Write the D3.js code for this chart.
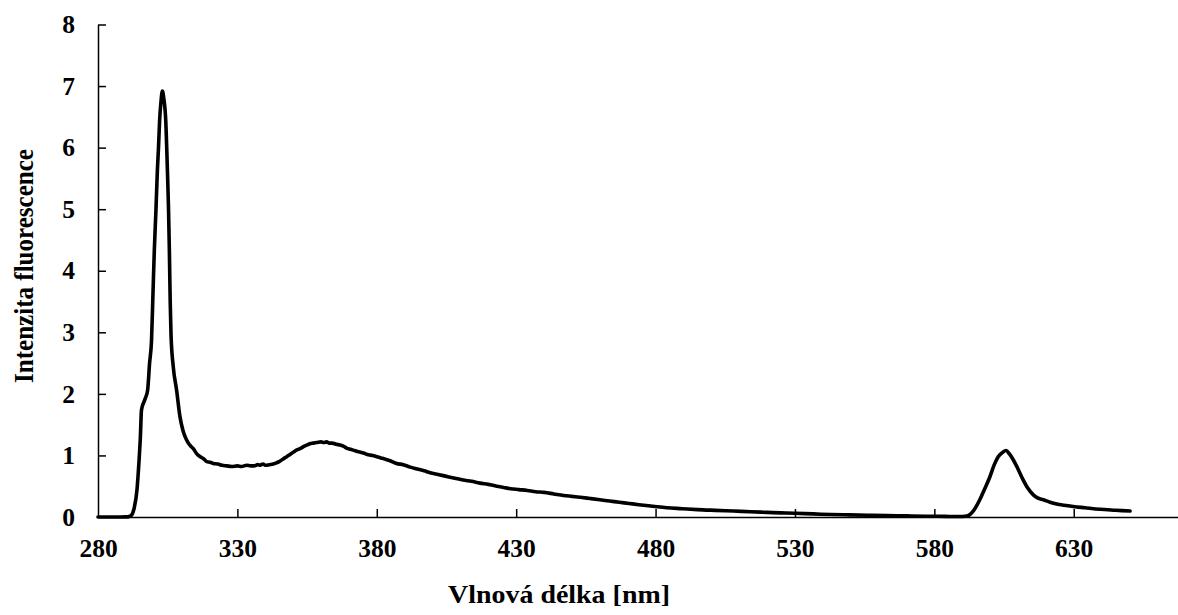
<!DOCTYPE html>
<html>
<head>
<meta charset="utf-8">
<script src="https://cdn.jsdelivr.net/npm/d3@7"></script>
<style>
  html, body { margin: 0; padding: 0; background: #fff; }
  svg { display: block; }
  text { font-family: "Liberation Serif", "Times New Roman", serif; font-weight: bold; fill: #000; }
</style>
</head>
<body>
<svg id="chart" width="1178" height="615"></svg>
<script>
// Fluorescence emission spectrum: wavelength (nm) and intensity
const wavelength = [
  280, 284, 288, 290, 291, 292, 293, 294, 294.7, 295.2, 295.6, 296.3, 297, 297.8,
  298.5, 299.2, 299.7, 300.2, 300.8, 301.3, 301.7, 302.1, 302.6, 303.1, 303.6,
  304.3, 304.9, 305.3, 305.6, 305.9, 306.2, 307, 308.2, 309.4, 310.5, 311.8,
  312.4, 313.3, 314.2, 315.2, 316, 317, 317.8, 319, 320.2, 321.4, 323, 324.5,
  326.2, 328, 330, 331.5, 333.3, 334.8, 336, 337.3, 338, 339.2, 340, 341.5,
  342.9, 344, 345, 346.3, 347.7, 349, 350, 351.3, 352.5, 354, 355, 356, 357.2,
  358.5, 360, 361, 362, 363, 364, 365.5, 366.8, 368, 369.2, 370.5, 372, 373.5,
  375.2, 377, 378.5, 380, 381.5, 383, 385, 387.1, 389.5, 392, 394.5, 397, 399.1,
  402, 405, 408, 411, 414, 417, 420, 423, 425.5, 428, 431, 434, 437, 440, 443.5,
  447, 450, 453, 456.5, 460, 463.5, 467, 470.5, 474, 479, 484, 489.5, 495, 501.5,
  508, 514, 520, 525, 530, 536.5, 543, 549.5, 556, 563, 570, 577, 584, 588,
  590, 592, 594, 596.3, 598, 599.9, 601.5, 602.9, 604.5, 605.7, 607, 608.3, 610,
  611.9, 613.5, 615.5, 617, 619.1, 621.5, 623.9, 626.5, 629.8, 634, 639.4, 645,
  650.2
];
const intensity = [
  0.0, 0.0, 0.0, 0.002, 0.006, 0.03, 0.15, 0.45, 0.9, 1.3, 1.74, 1.85, 1.93, 2.06,
  2.5, 2.87, 3.6, 4.33, 5.0, 5.63, 6.0, 6.44, 6.75, 6.92, 6.8,
  6.44, 5.63, 5.0, 4.33, 3.5, 2.95, 2.44, 2.06, 1.63, 1.4, 1.25,
  1.2, 1.15, 1.11, 1.04, 1.0, 0.97, 0.95, 0.9, 0.89, 0.87, 0.86, 0.84,
  0.83, 0.82, 0.83, 0.82, 0.84, 0.83, 0.83, 0.85, 0.84, 0.86, 0.84, 0.85,
  0.86, 0.88, 0.9, 0.94, 0.98, 1.02, 1.05, 1.09, 1.11, 1.15, 1.17, 1.19, 1.2,
  1.21, 1.22, 1.21, 1.22, 1.2, 1.2, 1.18, 1.17, 1.15, 1.12, 1.1, 1.08, 1.06,
  1.04, 1.01, 1.0, 0.98, 0.96, 0.94, 0.91, 0.87, 0.85, 0.81, 0.78, 0.75, 0.72,
  0.69, 0.66, 0.63, 0.6, 0.58, 0.55, 0.53, 0.5, 0.48, 0.46, 0.445, 0.43, 0.41, 0.4, 0.375,
  0.35, 0.335, 0.32, 0.3, 0.28, 0.26, 0.24, 0.22, 0.2, 0.175, 0.15, 0.135, 0.12, 0.108,
  0.097, 0.085, 0.075, 0.067, 0.06, 0.05, 0.04, 0.034, 0.028, 0.022, 0.018, 0.013, 0.01, 0.008,
  0.008, 0.02, 0.1, 0.28, 0.45, 0.65, 0.85, 0.98, 1.05, 1.08, 1.02, 0.93, 0.78,
  0.6, 0.47, 0.36, 0.31, 0.28, 0.24, 0.21, 0.19, 0.17, 0.15, 0.125, 0.11,
  0.097
];
const xTicks = [280, 330, 380, 430, 480, 530, 580, 630];
const yTicks = [0, 1, 2, 3, 4, 5, 6, 7, 8];
const xTitle = "Vlnová délka [nm]";
const yTitle = "Intenzita fluorescence";

const svg = d3.select("#chart");

const x = d3.scaleLinear().domain([280, 667.4]).range([98, 1178]);
const y = d3.scaleLinear().domain([0, 8]).range([517, 24.5]);

// y axis with inward ticks
const yAxis = svg.append("g")
  .attr("transform", `translate(${x(280)},0)`)
  .call(d3.axisLeft(y).tickValues(yTicks).tickFormat(d3.format("d"))
    .tickSizeInner(-8).tickSizeOuter(0).tickPadding(23));

// x axis with inward ticks
const xAxis = svg.append("g")
  .attr("transform", `translate(0,${y(0)})`)
  .call(d3.axisBottom(x).tickValues(xTicks).tickFormat(d3.format("d"))
    .tickSizeInner(-8).tickSizeOuter(0).tickPadding(22));

[xAxis, yAxis].forEach(g => {
  g.attr("font-family", null).attr("font-size", null);
  g.select(".domain").attr("stroke", "#000").attr("stroke-width", 1.5);
  g.selectAll(".tick line").attr("stroke", "#000").attr("stroke-width", 1.5);
  g.selectAll(".tick text").style("font-size", "25.5px");
});
xAxis.selectAll(".tick").filter(d => d === 280).select("line").remove();
yAxis.selectAll(".tick").filter(d => d === 0).select("line").remove();

// spectrum line
const pts = wavelength.map((w, i) => [w, intensity[i]]);
svg.append("path")
  .datum(pts)
  .attr("fill", "none")
  .attr("stroke", "#000")
  .attr("stroke-width", 3.6)
  .attr("stroke-linejoin", "round")
  .attr("stroke-linecap", "round")
  .attr("d", d3.line().x(d => x(d[0])).y(d => y(d[1])).curve(d3.curveMonotoneX));

// axis titles
svg.append("text")
  .attr("x", 559).attr("y", 603)
  .attr("text-anchor", "middle")
  .attr("textLength", 222).attr("lengthAdjust", "spacingAndGlyphs")
  .style("font-size", "26px")
  .text(xTitle);

svg.append("text")
  .attr("transform", "translate(33,266) scale(1.08,1) rotate(-90)")
  .attr("text-anchor", "middle")
  .attr("textLength", 234).attr("lengthAdjust", "spacingAndGlyphs")
  .style("font-size", "26px")
  .text(yTitle);
</script>
</body>
</html>
